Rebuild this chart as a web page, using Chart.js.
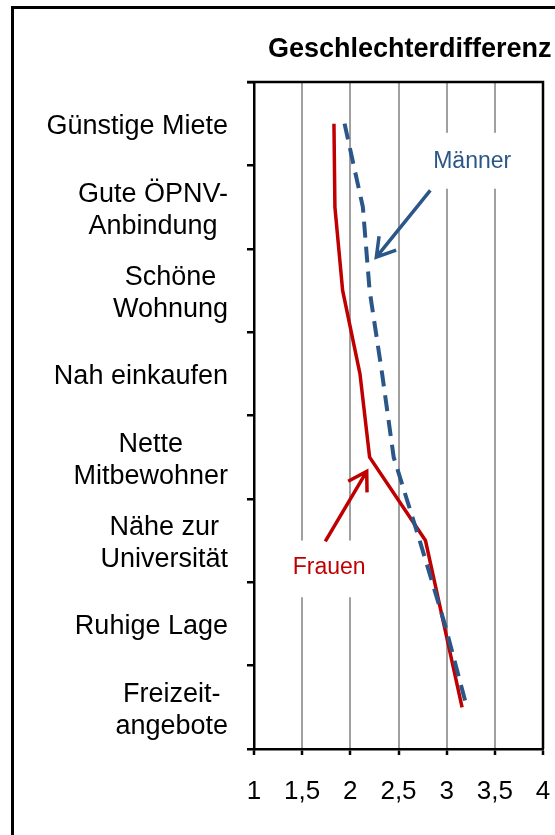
<!DOCTYPE html>
<html>
<head>
<meta charset="utf-8">
<script src="https://cdn.jsdelivr.net/npm/chart.js@4.4.1/dist/chart.umd.min.js"></script>
<style>
  body { margin: 0; background: #fff; }
  canvas { display: block; }
</style>
</head>
<body>
<canvas id="genderChart" width="555" height="835"></canvas>
<script>
const categories = [
    ['Günstige Miete'],
    ['Gute ÖPNV-', 'Anbindung'],
    ['Schöne', 'Wohnung'],
    ['Nah einkaufen'],
    ['Nette', 'Mitbewohner'],
    ['Nähe zur', 'Universität'],
    ['Ruhige Lage'],
    ['Freizeit-', 'angebote']
];
const frauen = [1.83, 1.84, 1.92, 2.10, 2.20, 2.78, 2.97, 3.16];
const maenner = [1.94, 2.13, 2.20, 2.33, 2.45, 2.72, 2.98, 3.21];
const xTickLabels = ['1', '1,5', '2', '2,5', '3', '3,5', '4'];

const FONT = '"Liberation Sans", Arial, sans-serif';
const RED = '#C00000';
const BLUE = '#2A5788';

function drawArrow(ctx, x1, y1, x2, y2, color) {
    const a = Math.atan2(y2 - y1, x2 - x1);
    const head = 21;
    ctx.save();
    ctx.strokeStyle = color;
    ctx.lineWidth = 3.5;
    ctx.lineCap = 'butt';
    ctx.beginPath();
    ctx.moveTo(x1, y1);
    ctx.lineTo(x2, y2);
    ctx.moveTo(x2 - head * Math.cos(a - 0.55), y2 - head * Math.sin(a - 0.55));
    ctx.lineTo(x2, y2);
    ctx.lineTo(x2 - head * Math.cos(a + 0.55), y2 - head * Math.sin(a + 0.55));
    ctx.stroke();
    ctx.restore();
}

const decorations = {
    id: 'decorations',
    beforeDraw(chart) {
        const ctx = chart.ctx;
        ctx.save();
        ctx.fillStyle = '#fff';
        ctx.fillRect(0, 0, chart.width, chart.height);
        ctx.strokeStyle = '#000';
        ctx.lineWidth = 3;
        ctx.strokeRect(12.5, 7.5, 700, 1000);
        ctx.restore();
    },
    beforeDatasetsDraw(chart) {
        // white label boxes cut through the grid lines
        const ctx = chart.ctx, x = chart.scales.x, y = chart.scales.y;
        ctx.save();
        ctx.fillStyle = '#fff';
        ctx.fillRect(x.getPixelForValue(2.75), y.getPixelForValue(0.11),
            x.getPixelForValue(3.78) - x.getPixelForValue(2.75), y.getPixelForValue(0.78) - y.getPixelForValue(0.11));
        ctx.fillRect(x.getPixelForValue(1.38), y.getPixelForValue(5.0),
            x.getPixelForValue(2.47) - x.getPixelForValue(1.38), y.getPixelForValue(5.68) - y.getPixelForValue(5.0));
        ctx.restore();
    },
    afterDraw(chart) {
        const ctx = chart.ctx, x = chart.scales.x, y = chart.scales.y;
        const area = chart.chartArea;
        ctx.save();

        // top and right frame of the plot
        ctx.strokeStyle = '#000';
        ctx.lineWidth = 2.5;
        ctx.beginPath();
        ctx.moveTo(area.left - 7, area.top);
        ctx.lineTo(area.right, area.top);
        ctx.lineTo(area.right, area.bottom);
        ctx.stroke();

        // title (cut at the right edge like in the picture)
        ctx.fillStyle = '#000';
        ctx.font = 'bold 27px ' + FONT;
        ctx.textAlign = 'left';
        ctx.textBaseline = 'alphabetic';
        ctx.fillText('Geschlechterdifferenz', 268, 57);

        // category labels: block right aligned, lines centred
        ctx.font = '27px ' + FONT;
        ctx.textAlign = 'center';
        const right = area.left - 26;
        categories.forEach((lines, i) => {
            const w = Math.max(...lines.map(l => ctx.measureText(l).width));
            const cx = right - w / 2;
            const cy = y.getPixelForTick(i);
            lines.forEach((l, k) => {
                ctx.fillText(l, cx, cy + 10.5 + (k - (lines.length - 1) / 2) * 32);
            });
        });

        // annotations
        ctx.font = '23px ' + FONT;
        ctx.textBaseline = 'middle';
        ctx.fillStyle = BLUE;
        ctx.fillText('Männer', x.getPixelForValue(3.265), y.getPixelForValue(0.45));
        ctx.fillStyle = RED;
        ctx.fillText('Frauen', x.getPixelForValue(1.78), y.getPixelForValue(5.33));
        drawArrow(ctx, x.getPixelForValue(2.83), y.getPixelForValue(0.8),
            x.getPixelForValue(2.27), y.getPixelForValue(1.6), BLUE);
        drawArrow(ctx, x.getPixelForValue(1.74), y.getPixelForValue(5.01),
            x.getPixelForValue(2.17), y.getPixelForValue(4.17), RED);
        ctx.restore();
    }
};

const ctx = document.getElementById('genderChart').getContext('2d');
const genderChart = new Chart(ctx, {
    type: 'line',
    data: {
        labels: categories,
        datasets: [{
            label: 'Frauen',
            data: frauen,
            borderColor: RED,
            borderWidth: 3.5,
            pointRadius: 0,
            tension: 0,
            order: 1
        }, {
            label: 'Männer',
            data: maenner,
            borderColor: BLUE,
            borderWidth: 4,
            borderDash: [16, 9],
            pointRadius: 0,
            tension: 0,
            order: 0
        }]
    },
    options: {
        indexAxis: 'y',
        responsive: false,
        animation: false,
        devicePixelRatio: 1,
        layout: { padding: { left: 0, top: 82, right: 12, bottom: 0 } },
        plugins: {
            legend: { display: false },
            title: { display: false },
            tooltip: { enabled: false }
        },
        scales: {
            x: {
                type: 'linear',
                min: 1,
                max: 4,
                ticks: {
                    stepSize: 0.5,
                    color: '#000',
                    font: { family: FONT, size: 26 },
                    padding: 21,
                    maxRotation: 0,
                    callback: (v, i) => xTickLabels[i]
                },
                grid: {
                    color: '#A0A0A0',
                    lineWidth: 2,
                    tickColor: '#000',
                    tickLength: 6,
                    tickWidth: 2.5
                },
                border: { color: '#000', width: 2.5 },
                afterFit: scale => {
                    scale.height = 86;
                    scale.paddingLeft = 0;
                    scale.paddingRight = 0;
                }
            },
            y: {
                type: 'category',
                offset: true,
                ticks: { display: false },
                grid: {
                    drawOnChartArea: false,
                    color: '#000',
                    lineWidth: 2.5,
                    tickLength: 7,
                    offset: true
                },
                border: { color: '#000', width: 2.5 },
                afterFit: scale => { scale.width = 254; }
            }
        }
    },
    plugins: [decorations]
});
</script>
</body>
</html>
